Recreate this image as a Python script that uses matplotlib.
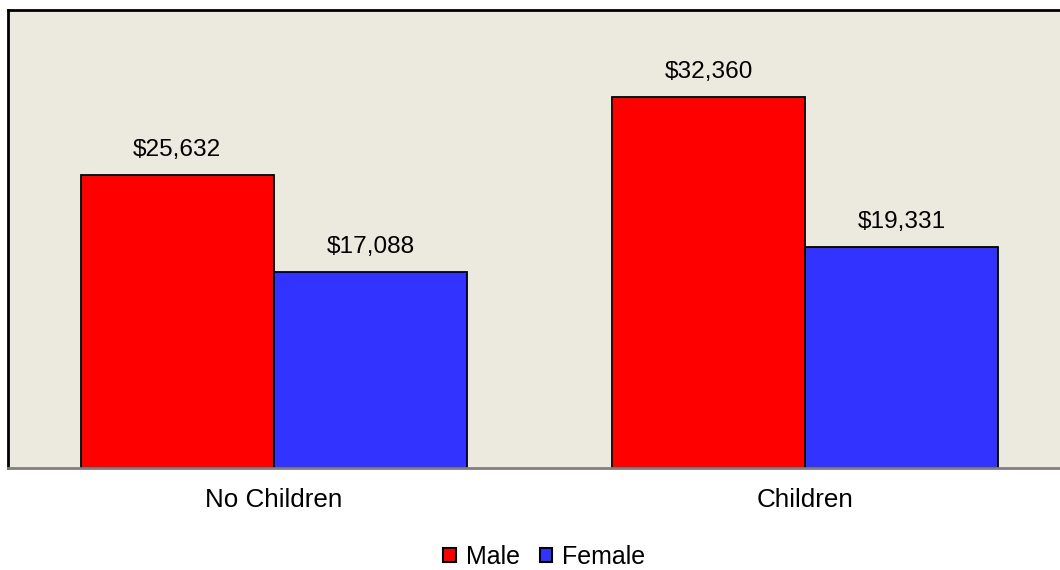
import matplotlib
matplotlib.use("Agg")
import matplotlib.pyplot as plt
from matplotlib.patches import Patch
import numpy as np

categories = ["No Children", "Children"]
series_names = ["Male", "Female"]
male_values = [25632, 32360]
female_values = [17088, 19331]
colors = ["#FF0000", "#3333FF"]

plt.rcParams['font.family'] = ['Liberation Sans', 'DejaVu Sans']

W, H = 1060, 570
fig = plt.figure(figsize=(W / 100, H / 100), dpi=100)
left, right, top, bottom = 8, 1071, 10, 468
ax = fig.add_axes([left / W, (H - bottom) / H, (right - left) / W, (bottom - top) / H])
ax.set_facecolor("#ECE9DF")

x = np.arange(len(categories))
width = 0.3635
series = [male_values, female_values]
for i, (vals, c) in enumerate(zip(series, colors)):
    offs = (i - 0.5) * width
    bars = ax.bar(x + offs, vals, width, color=c, edgecolor="black", linewidth=1.3, zorder=2)
    for b, v in zip(bars, vals):
        ax.annotate(f"${v:,}", (b.get_x() + b.get_width() / 2, v), xytext=(0, 18),
                    textcoords="offset points", ha="center", va="center", fontsize=17.6)

ax.set_xlim(-0.5, 1.5)
ax.set_ylim(0, 40000)
ax.set_yticks([])
ax.set_xticks(x)
ax.set_xticklabels(categories, fontsize=18.7)
ax.tick_params(axis="x", length=0, pad=14.5)

for s in ["left", "top", "right"]:
    ax.spines[s].set_color("black")
    ax.spines[s].set_linewidth(2)
ax.spines["bottom"].set_color("#808080")
ax.spines["bottom"].set_linewidth(2)

handles = [Patch(facecolor=c, edgecolor="black", linewidth=1.5) for c in colors]
fig.legend(handles, series_names, loc="center", bbox_to_anchor=(544.5 / W, 13 / H),
           ncol=2, frameon=False, fontsize=18, handlelength=0.5, handleheight=0.5,
           handletextpad=0.4, columnspacing=0.8, borderpad=0)

fig.savefig("out.png", dpi=100)
